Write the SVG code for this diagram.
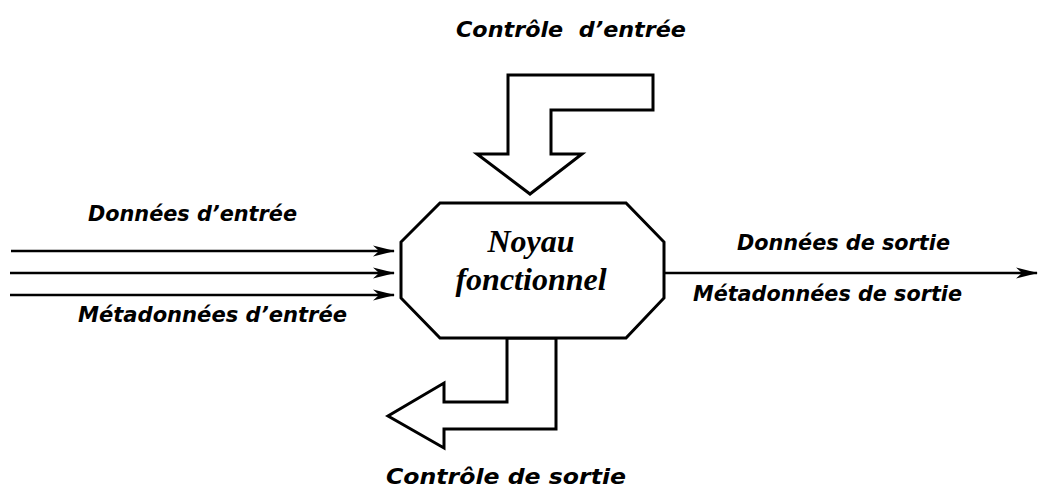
<svg xmlns="http://www.w3.org/2000/svg" width="1042" height="490" viewBox="0 0 1042 490">
<style>
.shape{fill:#fff;stroke:#000;stroke-width:3;stroke-linejoin:miter}
.line{fill:none;stroke:#000;stroke-width:2.5}
.lbl{font-family:"DejaVu Sans",sans-serif;font-weight:bold;font-style:italic;font-size:22px;fill:#000}
.core{font-family:"Liberation Serif","Times New Roman",serif;font-weight:bold;font-style:italic;font-size:32px;fill:#000;text-anchor:middle}
</style>
<defs>
<marker id="arr" markerWidth="22" markerHeight="12" refX="21" refY="6" orient="auto" markerUnits="userSpaceOnUse">
<path d="M0,0.5 L22,6 L0,11.5 L6,6 z" fill="#000"/>
</marker>
</defs>
<rect width="1042" height="490" fill="#fff"/>
<g id="connectors">
<line class="line" x1="11" y1="251" x2="394" y2="251" marker-end="url(#arr)"/>
<line class="line" x1="10" y1="273" x2="394" y2="273" marker-end="url(#arr)"/>
<line class="line" x1="10" y1="295" x2="394" y2="295" marker-end="url(#arr)"/>
<line class="line" x1="664" y1="273" x2="1037" y2="273" marker-end="url(#arr)"/>
</g>
<g id="controle-entree">
<polygon class="shape" points="508,75 653,75 653,110 551,110 551,154 582,154 530,194 477,154 508,154"/>
<text class="lbl" x="456" y="37" textLength="230" lengthAdjust="spacingAndGlyphs" xml:space="preserve" style="white-space:pre">Contrôle  d’entrée</text>
</g>
<g id="controle-sortie">
<polygon class="shape" points="507,338 507,402 444,402 444,383 388,416 444,448 444,429 556,429 556,338"/>
<text class="lbl" x="386" y="484" textLength="240" lengthAdjust="spacingAndGlyphs">Contrôle de sortie</text>
</g>
<g id="noyau">
<polygon class="shape" points="440,203 626,203 664,242 664,298 626,338 440,338 401,298 401,242"/>
<text class="core" x="531" y="252">Noyau</text>
<text class="core" x="531" y="290">fonctionnel</text>
</g>
<g id="labels">
<text class="lbl" x="88" y="221" textLength="209" lengthAdjust="spacingAndGlyphs">Données d’entrée</text>
<text class="lbl" x="78" y="322" textLength="269" lengthAdjust="spacingAndGlyphs">Métadonnées d’entrée</text>
<text class="lbl" x="737" y="250" textLength="213" lengthAdjust="spacingAndGlyphs">Données de sortie</text>
<text class="lbl" x="693" y="301" textLength="269" lengthAdjust="spacingAndGlyphs">Métadonnées de sortie</text>
</g>
</svg>
